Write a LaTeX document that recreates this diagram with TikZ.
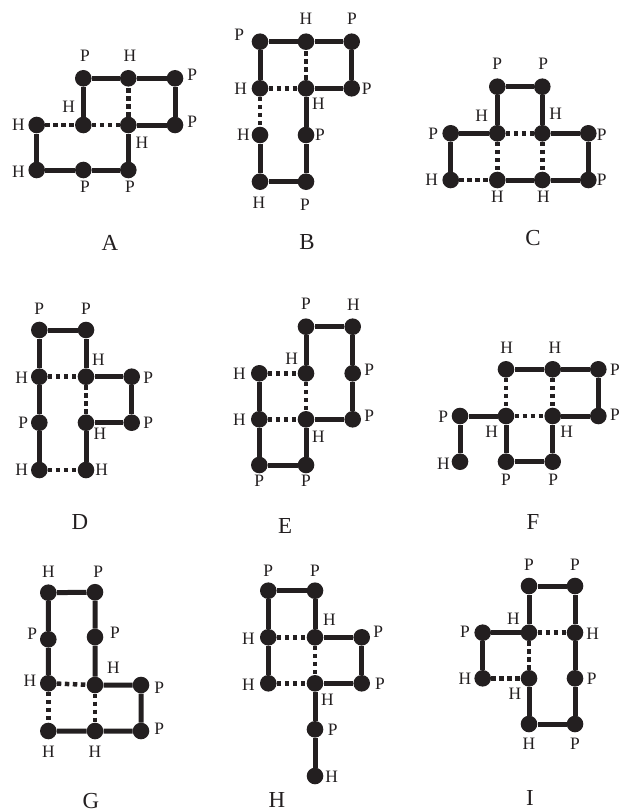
\documentclass[tikz,border=0pt]{standalone}
\usepackage{fontspec}
\setmainfont{Liberation Serif}
\definecolor{ink}{HTML}{231F20}
% residue: name, x, y, letter, label x, label y
\newcommand\res[6]{%
  \node[dot] (#1) at (#2,#3) {};
  \node[lab] (#1l) at (#5,#6) {#4};}
\begin{document}
\begin{tikzpicture}[x=1bp,y=-1bp,
  dot/.style={circle,fill=ink,inner sep=0pt,minimum size=16.6bp},
  lab/.style={inner sep=0pt,text=ink,font=\fontsize{17.5}{17.5}\selectfont},
  title/.style={inner sep=0pt,text=ink,font=\fontsize{23}{23}\selectfont},
  bond/.style={draw=ink,line width=5bp},
  hb/.style={draw=ink,line width=4.5bp,dash pattern=on 4.5bp off 3.5bp}]
\useasboundingbox (0,0) rectangle (623,812);

% ---- A ----
\res{a1}{36.7}{125}{H}{18.3}{125}
\res{a2}{36.7}{170}{H}{18.3}{171.7}
\res{a3}{83.3}{170}{P}{85}{186.7}
\res{a4}{128.3}{170}{P}{130}{186.7}
\res{a5}{128.3}{125}{H}{142}{142.7}
\res{a6}{175}{125}{P}{192.3}{121.7}
\res{a7}{175}{78.3}{P}{192.3}{75}
\res{a8}{128.3}{78.3}{H}{130}{55.7}
\res{a9}{83.3}{78.3}{P}{85}{55.7}
\res{a10}{83.3}{125}{H}{68.7}{106.7}
\draw[bond] (a1)--(a2)--(a3)--(a4)--(a5)--(a6)--(a7)--(a8)--(a9)--(a10);
\draw[hb] (a1)--(a10); \draw[hb] (a10)--(a5); \draw[hb] (a5)--(a8);
\node[title] (tA) at (110,243) {A};

% ---- B ----
\res{b1}{260}{135}{H}{243.3}{135}
\res{b2}{260}{181.7}{H}{259}{202.7}
\res{b3}{306}{181.7}{P}{305}{205}
\res{b4}{306}{135}{P}{320}{135}
\res{b5}{306}{88.3}{H}{318.3}{103.3}
\res{b6}{351.7}{88.3}{P}{366.7}{88.3}
\res{b7}{351.7}{41.7}{P}{352}{19}
\res{b8}{306}{41.7}{H}{306}{19}
\res{b9}{260}{41.7}{P}{239.3}{35}
\res{b10}{260}{88.3}{H}{240.7}{89}
\draw[bond] (b1)--(b2)--(b3)--(b4)--(b5)--(b6)--(b7)--(b8)--(b9)--(b10);
\draw[hb] (b10)--(b1); \draw[hb] (b10)--(b5); \draw[hb] (b5)--(b8);
\node[title] (tB) at (307,242) {B};

% ---- C ----
\res{c1}{450.7}{180}{H}{431.7}{180}
\res{c2}{450.7}{133.3}{P}{433.3}{133.3}
\res{c3}{497.3}{133.3}{H}{481.7}{116}
\res{c4}{497.3}{86.7}{P}{497.3}{64}
\res{c5}{542.3}{86.7}{P}{543.3}{64}
\res{c6}{542.3}{133.3}{H}{555.7}{114}
\res{c7}{588.3}{133.3}{P}{601.7}{134.3}
\res{c8}{588.3}{180}{P}{601.7}{180}
\res{c9}{542.3}{180}{H}{543.3}{196.7}
\res{c10}{497.3}{180}{H}{497.3}{196.7}
\draw[bond] (c1)--(c2)--(c3)--(c4)--(c5)--(c6)--(c7)--(c8)--(c9)--(c10);
\draw[hb] (c1)--(c10); \draw[hb] (c3)--(c6); \draw[hb] (c3)--(c10); \draw[hb] (c6)--(c9);
\node[title] (tC) at (533,238) {C};

% ---- D ----
\res{d1}{86}{470}{H}{101.7}{470}
\res{d2}{86}{422.7}{H}{100}{434}
\res{d3}{131.7}{422.7}{P}{148.3}{422.7}
\res{d4}{131.7}{376.7}{P}{148.3}{377.3}
\res{d5}{86}{376.7}{H}{98.3}{360}
\res{d6}{86}{330}{P}{86}{308.3}
\res{d7}{39.3}{330}{P}{39.3}{308.3}
\res{d8}{39.3}{376.7}{H}{21.7}{377.3}
\res{d9}{39.3}{422.7}{P}{23.3}{422.7}
\res{d10}{39.3}{470}{H}{21.7}{470}
\draw[bond] (d1)--(d2)--(d3)--(d4)--(d5)--(d6)--(d7)--(d8)--(d9)--(d10);
\draw[hb] (d10)--(d1); \draw[hb] (d8)--(d5); \draw[hb] (d5)--(d2);
\node[title] (tD) at (80,522) {D};

% ---- E ----
\res{e1}{259.3}{373.3}{H}{239.3}{374}
\res{e2}{259.3}{419.3}{H}{239.3}{420}
\res{e3}{259.3}{465}{P}{259.3}{481}
\res{e4}{306}{465}{P}{306}{481}
\res{e5}{306}{419.3}{H}{318.3}{436.7}
\res{e6}{352.7}{419.3}{P}{369.3}{416}
\res{e7}{352.7}{373.3}{P}{369.3}{370}
\res{e8}{352.7}{326.7}{H}{353.3}{305}
\res{e9}{306}{326.7}{P}{306}{303.3}
\res{e10}{306}{373.3}{H}{291.7}{358.3}
\draw[bond] (e1)--(e2)--(e3)--(e4)--(e5)--(e6)--(e7)--(e8)--(e9)--(e10);
\draw[hb] (e1)--(e10); \draw[hb] (e10)--(e5); \draw[hb] (e2)--(e5);
\node[title] (tE) at (285,526) {E};

% ---- F ----
\res{f1}{460}{461.7}{H}{443.3}{463.3}
\res{f2}{460}{416}{P}{443.3}{416.7}
\res{f3}{506}{416}{H}{491.7}{431.7}
\res{f4}{506}{461.7}{P}{506}{480}
\res{f5}{552.7}{461.7}{P}{553.3}{480}
\res{f6}{552.7}{416}{H}{566.7}{431.7}
\res{f7}{598.3}{416}{P}{615}{415}
\res{f8}{598.3}{369.3}{P}{615}{370}
\res{f9}{552.7}{369.3}{H}{555}{347.3}
\res{f10}{506}{369.3}{H}{506.7}{347.3}
\draw[bond] (f1)--(f2)--(f3)--(f4)--(f5)--(f6)--(f7)--(f8)--(f9)--(f10);
\draw[hb] (f10)--(f3); \draw[hb] (f9)--(f6); \draw[hb] (f3)--(f6);
\node[title] (tF) at (533,522) {F};

% ---- G ----
\res{g1}{48.3}{683.3}{H}{30}{680.7}
\res{g2}{48.3}{639.3}{P}{32.3}{633.3}
\res{g3}{48.3}{592.7}{H}{48.3}{571.7}
\res{g4}{95}{592.2}{P}{98.3}{571.7}
\res{g5}{95}{637}{P}{115}{632.7}
\res{g6}{95}{685}{H}{113.3}{667.3}
\res{g7}{141}{685}{P}{159.3}{687.3}
\res{g8}{141}{731}{P}{159.3}{729}
\res{g9}{95}{731}{H}{95}{752}
\res{g10}{48.3}{731}{H}{48.3}{752}
\draw[bond] (g1)--(g2)--(g3)--(g4)--(g5)--(g6)--(g7)--(g8)--(g9)--(g10);
\draw[hb] (g1)--(g6); \draw[hb] (g1)--(g10); \draw[hb] (g6)--(g9);
\node[title] (tG) at (91,801) {G};

% ---- H ----
\res{h1}{268.3}{683.3}{H}{248.3}{685}
\res{h2}{268.3}{637.3}{H}{248.3}{638.3}
\res{h3}{268.3}{590.7}{P}{268.3}{570.7}
\res{h4}{315}{590.7}{P}{315}{570.7}
\res{h5}{315}{637.3}{H}{329.3}{619.3}
\res{h6}{361.7}{637.3}{P}{378.3}{631.7}
\res{h7}{361.7}{683.3}{P}{380}{683.3}
\res{h8}{315}{683.3}{H}{327.3}{700}
\res{h9}{315}{729.3}{P}{332.7}{730}
\res{h10}{315}{776}{H}{331.7}{776.7}
\draw[bond] (h1)--(h2)--(h3)--(h4)--(h5)--(h6)--(h7)--(h8)--(h9)--(h10);
\draw[hb] (h2)--(h5); \draw[hb] (h5)--(h8); \draw[hb] (h1)--(h8);
\node[title] (tH) at (277,800) {H};

% ---- I ----
\res{i1}{482.7}{678.3}{H}{465}{678.3}
\res{i2}{482.7}{632.7}{P}{465}{631.7}
\res{i3}{529}{632.7}{H}{513.3}{618.3}
\res{i4}{529}{586}{P}{529}{565}
\res{i5}{575}{586}{P}{575}{565}
\res{i6}{575}{632.7}{H}{592.7}{633.3}
\res{i7}{575}{678.3}{P}{591.7}{678.3}
\res{i8}{575}{724}{P}{575}{743.3}
\res{i9}{529}{724}{H}{529}{743.3}
\res{i10}{529}{678.3}{H}{515}{693.3}
\draw[bond] (i1)--(i2)--(i3)--(i4)--(i5)--(i6)--(i7)--(i8)--(i9)--(i10);
\draw[hb] (i3)--(i6); \draw[hb] (i3)--(i10); \draw[hb] (i1)--(i10);
\node[title] (tI) at (530,798) {I};
\end{tikzpicture}
\end{document}
